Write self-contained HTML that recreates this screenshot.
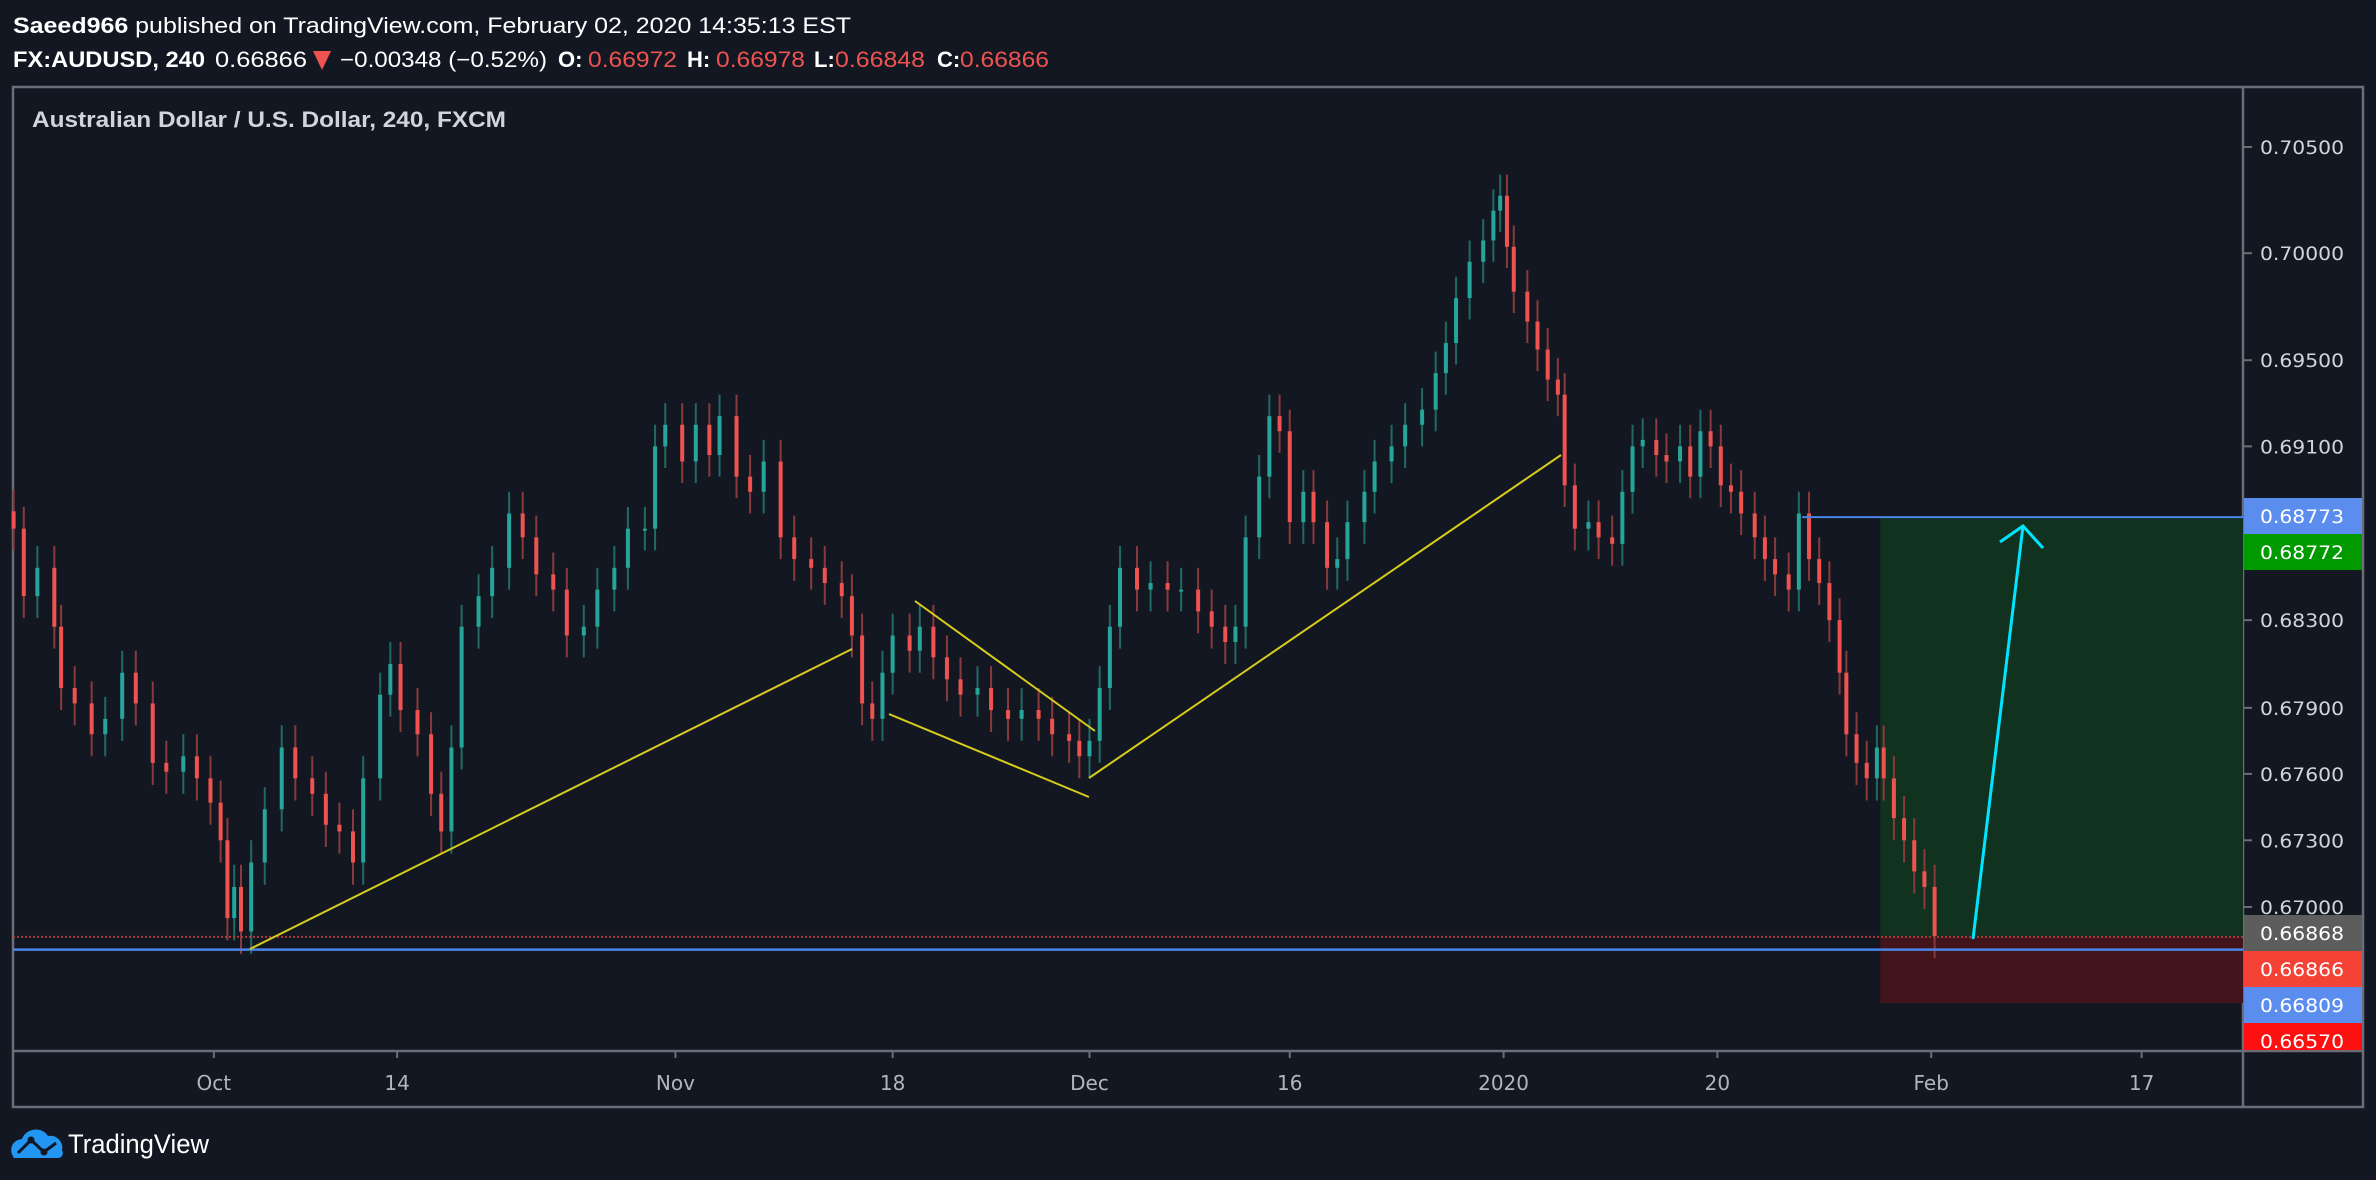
<!DOCTYPE html>
<html><head><meta charset="utf-8"><style>
html,body{margin:0;padding:0;background:#131722;}
svg{display:block;}
</style></head><body>
<svg id="chart" width="2376" height="1180" viewBox="0 0 2376 1180" xmlns="http://www.w3.org/2000/svg">
<rect x="0" y="0" width="2376" height="1180" fill="#131722"/>
<g font-family="'Liberation Sans', sans-serif" font-size="22">
<text x="13" y="33" fill="#ffffff" textLength="838" lengthAdjust="spacingAndGlyphs"><tspan font-weight="bold">Saeed966</tspan> published on TradingView.com, February 02, 2020 14:35:13 EST</text>
<text x="13" y="67" fill="#ffffff" font-weight="bold" textLength="192" lengthAdjust="spacingAndGlyphs">FX:AUDUSD, 240</text>
<text x="215" y="67" fill="#ffffff" textLength="92" lengthAdjust="spacingAndGlyphs">0.66866</text>
<polygon points="313,51 331,51 322,70" fill="#ef5350"/>
<text x="340" y="67" fill="#ffffff" textLength="207" lengthAdjust="spacingAndGlyphs">−0.00348 (−0.52%)</text>
<text x="558" y="67" fill="#ffffff" font-weight="bold">O:</text>
<text x="588" y="67" fill="#ef5350" textLength="89" lengthAdjust="spacingAndGlyphs">0.66972</text>
<text x="687" y="67" fill="#ffffff" font-weight="bold">H:</text>
<text x="716" y="67" fill="#ef5350" textLength="89" lengthAdjust="spacingAndGlyphs">0.66978</text>
<text x="814" y="67" fill="#ffffff" font-weight="bold">L:</text>
<text x="835" y="67" fill="#ef5350" textLength="90" lengthAdjust="spacingAndGlyphs">0.66848</text>
<text x="937" y="67" fill="#ffffff" font-weight="bold">C:</text>
<text x="960" y="67" fill="#ef5350" textLength="89" lengthAdjust="spacingAndGlyphs">0.66866</text>
</g>
<g stroke="#6b6e78" stroke-width="2.5" fill="none">
<rect x="13" y="87" width="2350" height="1020"/>
<line x1="2243" y1="87" x2="2243" y2="1107"/>
<line x1="13" y1="1051" x2="2363" y2="1051"/>
</g>
<text x="32" y="127" fill="#d1d4dc" font-family="'Liberation Sans', sans-serif" font-weight="bold" font-size="22" textLength="474" lengthAdjust="spacingAndGlyphs">Australian Dollar / U.S. Dollar, 240, FXCM</text>
<g id="zones"></g>
<g id="candles"></g>
<g id="drawings"></g>
<g id="yaxis"></g>
<g id="xaxis"></g>
<g>
<path d="M14,1158 C8,1150 12,1140 22,1139 C26,1128 42,1126 48,1136 C56,1134 64,1142 62,1150 C64,1154 62,1158 58,1158 Z" fill="#2196f3"/>
<polyline points="18,1153 31,1140 44,1152 56,1143" fill="none" stroke="#131722" stroke-width="3"/>
<circle cx="31" cy="1140" r="3.5" fill="#131722"/><circle cx="44" cy="1152" r="3.5" fill="#131722"/>
<text x="68" y="1153" fill="#ffffff" font-family="'Liberation Sans', sans-serif" font-size="27" textLength="141" lengthAdjust="spacingAndGlyphs">TradingView</text>
</g>
</svg>
<script>
const closesPips = [6872,6841,6854,6827,6799,6792,6778,6785,6806,6792,
6765,6761,6768,6758,6747,6730,6695,6709,6689,6720,
6744,6772,6758,6751,6737,6734,6720,6758,6796,6810,
6789,6778,6751,6734,6772,6827,6841,6854,6879,6868,
6851,6844,6823,6827,6844,6854,6872,6872,6910,6920,
6903,6920,6906,6924,6896,6889,6903,6868,6858,6854,
6847,6841,6823,6792,6785,6806,6823,6816,6827,6813,
6803,6796,6799,6789,6785,6789,6785,6778,6775,6768,
6775,6799,6827,6854,6844,6847,6844,6844,6834,6827,
6820,6827,6868,6896,6924,6917,6875,6889,6875,6854,
6858,6875,6889,6903,6910,6920,6927,6944,6958,6979,
6996,7006,7020,7027,7003,6982,6968,6955,6941,6934,
6892,6872,6875,6868,6865,6889,6910,6913,6906,6903,
6910,6896,6917,6910,6892,6889,6879,6868,6858,6851,
6844,6879,6858,6847,6830,6806,6778,6765,6758,6772,
6758,6740,6730,6716,6709,6687];
const barIndex = [0,3,7,12,14,18,23,27,32,36,
41,45,50,54,58,61,63,65,67,70,
74,79,83,88,92,96,100,103,108,111,
114,119,123,126,129,132,137,141,146,150,
154,159,163,168,172,177,181,186,189,192,
197,201,205,208,213,217,221,226,230,235,
239,244,247,250,253,256,259,264,267,271,
275,279,284,288,293,297,302,306,311,314,
317,320,323,326,331,335,340,344,349,353,
357,360,363,367,370,373,376,380,383,387,
390,393,398,401,406,410,415,419,422,425,
429,433,436,438,440,442,446,449,452,455,
457,460,464,467,471,474,477,480,484,487,
491,494,497,500,503,506,509,513,516,519,
523,526,529,532,535,538,540,543,546,549,
551,554,557,560,563,566];
const firstOpenPips = 6880;
const wickPips = 10;
const priceTicks = [0.705,0.700,0.695,0.691,0.683,0.679,0.676,0.673,0.670];
const priceTickLabels = ["0.70500","0.70000","0.69500","0.69100","0.68300","0.67900","0.67600","0.67300","0.67000"];
const timeTickBars = [59,113,195,259,317,376,439,502,565,627];
const timeTickLabels = ["Oct","14","Nov","18","Dec","16","2020","20","Feb","17"];
const levelPrices = [0.68773,0.68772,0.66868,0.66866,0.66809,0.66570];
const levelLabels = ["0.68773","0.68772","0.66868","0.66866","0.66809","0.66570"];
const levelColors = ["#5b8def","#009a00","#5d5d5d","#f44336","#5b8def","#ff1010"];
const levelLabelY = [516,552,933,969,1005,1041];
const entryPrice = 0.66866, targetPrice = 0.68773, stopPrice = 0.66570, supportPrice = 0.66809;
const zoneStartBar = 550, targetLineStartBar = 527;

function yS(p){ return 147 + Math.log(0.705/p)*14925; }
function xS(b){ return 13.6 + b*3.394; }
const NS="http://www.w3.org/2000/svg";
function mk(tag, attrs, parent){ const e=document.createElementNS(NS,tag); for(const k in attrs) e.setAttribute(k,attrs[k]); parent.appendChild(e); return e; }

const zones=document.getElementById('zones');
const plotR=2243;
const gz = mk('rect',{x:xS(zoneStartBar),y:yS(targetPrice),width:plotR-xS(zoneStartBar),height:yS(entryPrice)-yS(targetPrice),fill:'#10321e'},zones);


const rz = mk('rect',{x:xS(zoneStartBar),y:yS(entryPrice),width:plotR-xS(zoneStartBar),height:yS(stopPrice)-yS(entryPrice),fill:'#42141b'},zones);



const cg=document.getElementById('candles');
let prevOpen=firstOpenPips;
for(let i=0;i<closesPips.length && i<barIndex.length;i++){
  const o=prevOpen/10000, c=closesPips[i]/10000;
  const up=c>=o;
  const col=up?'#26a69a':'#ef5350';
  const x=xS(barIndex[i]);
  const hi=Math.max(o,c)+wickPips/10000, lo=Math.min(o,c)-wickPips/10000;
  const w=mk('line',{x1:x,x2:x,y1:yS(hi),y2:yS(lo),stroke:up?'#1f6b64':'#8a3a3c','stroke-width':2},cg);
  
  
  const yt=yS(Math.max(o,c)), yb=yS(Math.min(o,c));
  const b=mk('rect',{x:x-2,y:yt,width:4,height:Math.max(2,yb-yt),fill:col},cg);
  
  
  prevOpen=closesPips[i];
}

const dg=document.getElementById('drawings');
const dot=mk('line',{x1:13,x2:plotR,y1:yS(entryPrice),y2:yS(entryPrice),stroke:'#b03a3a','stroke-width':2,'stroke-dasharray':'2,2'},dg);


const sup=mk('line',{x1:13,x2:plotR,y1:yS(supportPrice),y2:yS(supportPrice),stroke:'#4a86e8','stroke-width':2.5},dg);


const tl=mk('line',{x1:xS(targetLineStartBar),x2:plotR,y1:yS(targetPrice),y2:yS(targetPrice),stroke:'#4a86e8','stroke-width':2},dg);


const trend=[[250,949,852,649],[915,601,1095,731],[889,714,1089,797],[1089,778,1561,455]];
const trendNames=['trendline-oct-nov','wedge-upper','wedge-lower','trendline-dec'];
trend.forEach((t,i)=>{
  const l=mk('line',{x1:t[0],y1:t[1],x2:t[2],y2:t[3],stroke:'#d8cc1a','stroke-width':2},dg);
  
  
});
const ar=mk('polyline',{points:'1973,939 2023,526',stroke:'#00e5ff','stroke-width':3,fill:'none'},dg);


const ah=mk('polyline',{points:'2000,542 2023,526 2043,548',stroke:'#00e5ff','stroke-width':3,fill:'none'},dg);



const ya=document.getElementById('yaxis');
priceTicks.forEach((p,i)=>{
  const y=yS(p);
  const t=mk('line',{x1:2243,x2:2252,y1:y,y2:y,stroke:'#6b6e78','stroke-width':2},ya);
  
  
  const tx=mk('text',{x:2260,y:y+7,fill:'#d1d4dc','font-family':"'DejaVu Sans', sans-serif",'font-size':19,textLength:84,lengthAdjust:'spacingAndGlyphs'},ya);
  tx.textContent=priceTickLabels[i];
  
  
});
levelPrices.forEach((p,i)=>{
  const cy=levelLabelY[i];
  const r=mk('rect',{x:2244,y:cy-18,width:118,height:Math.min(36,1050-(cy-18)),fill:levelColors[i]},ya);
  
  
  const tx=mk('text',{x:2260,y:cy+7,fill:'#ffffff','font-family':"'DejaVu Sans', sans-serif",'font-size':19,textLength:84,lengthAdjust:'spacingAndGlyphs'},ya);
  tx.textContent=levelLabels[i];
  
  
});

const xa=document.getElementById('xaxis');
timeTickBars.forEach((b,i)=>{
  const x=xS(b);
  const t=mk('line',{x1:x,x2:x,y1:1051,y2:1058,stroke:'#6b6e78','stroke-width':2},xa);
  
  
  const tx=mk('text',{x:x,y:1090,fill:'#b2b5be','font-family':"'DejaVu Sans', sans-serif",'font-size':20,'text-anchor':'middle'},xa);
  tx.textContent=timeTickLabels[i];
  
  
});
</script>
</body></html>
